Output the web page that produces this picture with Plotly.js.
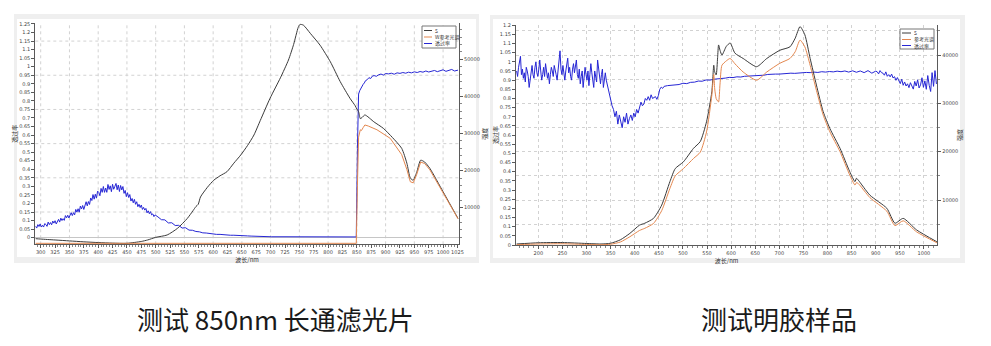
<!DOCTYPE html>
<html>
<head>
<meta charset="utf-8">
<script src="https://cdn.plot.ly/plotly-3.0.1.min.js"></script>
<style>
  html, body { margin: 0; padding: 0; background: #ffffff; }
  #chart { width: 991px; height: 346px; }
</style>
</head>
<body>
<div id="chart"></div>
<script>
// ---------- 850 nm long-pass filter measurement ----------
// lamp / reference spectrum (counts, right axis)
const filterLampWl = [291, 300, 325, 350, 375, 400, 425, 450, 475, 486,
  500, 520, 538, 555, 565, 570, 574, 578, 590, 601,
  612, 624, 636, 648, 660, 671, 682, 699, 717, 731,
  740, 748, 751, 757, 769, 786, 804, 821, 838, 847,
  850, 853, 856, 859, 864, 880, 896, 912, 928, 937,
  943, 948, 954, 961, 968, 977, 1000, 1013, 1026];
const filterLampCounts = [1650, 1550, 1300, 1050, 800, 600, 450, 400, 900, 1300,
  2000, 2650, 4450, 7100, 9200, 10300, 10900, 12900, 15500, 17400,
  18600, 19700, 22000, 24200, 26800, 29600, 33500, 39500, 45000, 49800,
  54000, 58600, 59400, 59200, 57000, 53800, 49300, 44000, 39500, 37500,
  36600, 35900, 34000, 34300, 35000, 33100, 31400, 28900, 26000, 22000,
  18000, 17400, 19500, 22800, 22300, 20600, 14300, 10700, 7100];

// spectrum through the filter (counts, right axis)
const filterSampleWl = [291, 400, 500, 600, 700, 800, 849, 851, 853, 856,
  858, 861, 864, 870, 885, 908, 928, 937, 943, 948,
  954, 961, 968, 977, 1000, 1013, 1026];
const filterSampleCounts = [400, 380, 420, 400, 380, 400, 400, 16000, 29000, 31000,
  30800, 31600, 32300, 32000, 31000, 28700, 24300, 20300, 17000, 16700,
  18900, 22300, 21900, 20200, 14100, 10500, 7000];

// transmittance (left axis)
const filterTransWl = [
  291, 293, 295, 297, 299, 301, 303, 305, 307, 309,
  311, 313, 315, 317, 319, 321, 323, 325, 327, 329,
  331, 333, 335, 337, 339, 341, 343, 345, 347, 349,
  351, 353, 355, 357, 359, 361, 363, 365, 367, 369,
  371, 373, 375, 377, 379, 381, 383, 385, 387, 389,
  391, 393, 395, 397, 399, 401, 403, 405, 407, 409,
  411, 413, 415, 417, 419, 421, 423, 425, 427, 429,
  431, 433, 435, 437, 439, 441, 443, 445, 447, 449,
  451, 453, 455, 457, 459, 461, 463, 465, 467, 469,
  471, 473, 475, 477, 479, 481, 483, 485, 487, 489,
  491, 493, 495, 497, 499,
  504, 510, 516, 522, 528, 534, 540, 546, 552, 558,
  564, 570, 576, 582, 588, 594, 600, 606, 612, 618,
  624, 630, 636, 642, 648, 654, 660, 666, 672, 678,
  684, 690, 696, 702,
  725, 750, 775, 800, 825, 849,
  851, 853, 855, 857, 859, 861, 863, 865,
  868, 871, 874, 877, 880, 884, 888, 892, 896, 900,
  905, 910, 915, 920, 925, 930, 935, 940, 945, 950,
  955, 960, 965, 970, 975, 980, 985, 990, 995, 1000,
  1005, 1010, 1015, 1020, 1026];
const filterTrans = [
  0.067, 0.056, 0.076, 0.065, 0.080, 0.062, 0.072, 0.062, 0.082, 0.077,
  0.066, 0.091, 0.076, 0.088, 0.075, 0.097, 0.085, 0.099, 0.080, 0.098,
  0.107, 0.091, 0.114, 0.100, 0.111, 0.101, 0.129, 0.116, 0.131, 0.115,
  0.136, 0.146, 0.129, 0.146, 0.133, 0.165, 0.149, 0.169, 0.149, 0.185,
  0.168, 0.188, 0.165, 0.194, 0.210, 0.186, 0.211, 0.194, 0.232, 0.217,
  0.252, 0.225, 0.254, 0.231, 0.272, 0.265, 0.245, 0.288, 0.265, 0.299,
  0.265, 0.290, 0.265, 0.311, 0.282, 0.303, 0.269, 0.312, 0.283, 0.300,
  0.317, 0.280, 0.308, 0.270, 0.305, 0.279, 0.299, 0.259, 0.276, 0.240,
  0.263, 0.235, 0.252, 0.214, 0.229, 0.204, 0.224, 0.195, 0.210, 0.181,
  0.195, 0.176, 0.191, 0.165, 0.177, 0.161, 0.171, 0.145, 0.157, 0.140,
  0.152, 0.133, 0.139, 0.123, 0.133,
  0.121, 0.105, 0.104, 0.086, 0.087, 0.071, 0.072, 0.056, 0.058, 0.044,
  0.043, 0.036, 0.034, 0.028, 0.027, 0.023, 0.023, 0.019, 0.019, 0.016,
  0.016, 0.014, 0.014, 0.012, 0.012, 0.010, 0.010, 0.009, 0.008, 0.008,
  0.007, 0.006, 0.006, 0.005,
  0.005, 0.004, 0.005, 0.004, 0.004, 0.004,
  0.52, 0.84, 0.86, 0.875, 0.882, 0.897, 0.905, 0.918,
  0.924, 0.936, 0.931, 0.945, 0.948, 0.944, 0.953, 0.957, 0.951, 0.960,
  0.958, 0.962, 0.956, 0.964, 0.961, 0.966, 0.962, 0.968, 0.964, 0.970,
  0.966, 0.972, 0.968, 0.975, 0.969, 0.974, 0.978, 0.971, 0.977, 0.982,
  0.973, 0.979, 0.984, 0.975, 0.980];

// ---------- gelatin sample measurement ----------
const gelWl = [155, 200, 250, 300, 330, 350, 370, 390, 410, 421,
  439, 456, 473, 484, 501, 522, 536, 549, 560, 564,
  566, 569, 572, 574, 577, 581, 590, 598, 608, 625,
  653, 674, 701, 722, 733, 743, 753, 764, 777, 791,
  805, 826, 846, 857, 860, 864, 888, 923, 940, 957,
  985, 1027];
const gelLampCounts = [900, 1150, 1200, 1000, 900, 1050, 1750, 3100, 4800, 5200,
  6200, 8950, 13800, 16500, 17900, 20700, 22100, 26200, 32400, 37900,
  36500, 35900, 39500, 42100, 41000, 40000, 41800, 42500, 40400, 39300,
  37600, 39300, 41000, 41700, 43500, 45900, 44200, 39300, 33800, 28300,
  24800, 20700, 15900, 13800, 14500, 14100, 11000, 8300, 5200, 6200,
  3800, 1350];
const gelSampleCounts = [750, 900, 950, 800, 750, 850, 1300, 2400, 3700, 4150,
  5150, 7800, 12400, 15000, 16500, 18600, 19900, 24100, 31700, 36000,
  33000, 31000, 30500, 30300, 34000, 37900, 38800, 39300, 38200, 36500,
  34800, 36500, 38300, 39300, 40700, 43100, 41700, 37900, 32700, 27600,
  24100, 20000, 15200, 13100, 13600, 13400, 10500, 7700, 4700, 5700,
  3400, 1150];

const gelTransWl = [
  155, 157, 159, 161, 163, 165, 167, 169, 171, 173,
  175, 177, 179, 181, 183, 185, 187, 189, 191, 193,
  195, 197, 199, 201, 203, 205, 207, 209, 211, 213,
  215, 217, 219, 221, 223, 225, 227, 229, 231, 233,
  235, 237, 239, 241, 243, 245, 247, 249, 251, 253,
  255, 257, 259, 261, 263, 265, 267, 269, 271, 273,
  275, 277, 279, 281, 283, 285, 287, 289, 291, 293,
  295, 297, 299, 301, 303, 305, 307, 309, 311, 313,
  315, 317, 319, 321, 323, 325, 327, 329, 331, 333,
  335, 337, 339,
  341, 344, 347, 350, 353, 356, 359, 362, 365, 368,
  371, 374, 377, 380, 383, 386, 389, 392, 395, 398,
  401, 404, 407, 410, 413, 416, 419, 422, 425, 428,
  431, 434, 437, 440, 443, 446, 449, 452, 455, 458,
  461,
  468, 476, 484, 492, 500, 508, 516, 524, 532, 540,
  548, 556, 564, 572, 580, 588, 596, 604, 612, 620,
  628, 636, 644, 652, 660, 668, 676, 684, 692, 700,
  708, 716, 724, 732, 740, 748, 756, 764, 772, 780,
  788, 796, 804, 812, 820, 828, 836, 844, 852, 860,
  868, 876, 884, 892, 900,
  903, 906, 909, 912, 915, 918, 921, 924, 927, 930,
  933, 936, 939, 942, 945, 948, 951, 954, 957, 960,
  963, 966, 969, 972, 975, 978, 981, 984, 987, 990,
  993, 996, 999, 1002, 1005, 1008, 1011, 1014, 1017, 1020,
  1023, 1026];
const gelTrans = [
  0.95, 0.92, 0.97, 1.00, 1.03, 0.93, 0.96, 0.91, 0.94, 0.89,
  0.97, 0.95, 0.92, 0.86, 0.90, 0.94, 0.98, 0.93, 0.91, 0.97,
  1.00, 0.94, 0.92, 0.96, 1.01, 0.95, 0.90, 0.93, 0.97, 0.92,
  0.99, 0.95, 0.91, 0.94, 0.88, 0.93, 0.97, 0.95, 0.92, 0.98,
  0.96, 0.93, 0.90, 0.95, 1.00, 1.06, 0.96, 0.93, 0.98, 0.94,
  0.90, 0.95, 0.99, 1.02, 0.94, 0.97, 0.92, 0.90, 0.96, 0.99,
  0.94, 0.97, 1.01, 0.93, 0.91, 0.96, 0.88, 0.92, 0.95, 0.86,
  0.91, 0.97, 0.93, 0.90, 0.95, 0.87, 0.93, 0.99, 0.94, 0.90,
  0.86, 0.95, 0.92, 0.89, 1.01, 0.96, 0.91, 0.88, 0.93, 0.96,
  0.86, 0.90, 0.94,
  0.90, 0.86, 0.83, 0.79, 0.76, 0.74, 0.70, 0.73, 0.66, 0.71,
  0.68, 0.64, 0.70, 0.67, 0.72, 0.66, 0.69, 0.71, 0.68, 0.72,
  0.70, 0.74, 0.72, 0.75, 0.78, 0.76, 0.77, 0.80, 0.79, 0.81,
  0.79, 0.82, 0.80, 0.805, 0.81, 0.795, 0.815, 0.85, 0.862, 0.855,
  0.866,
  0.870, 0.872, 0.877, 0.876, 0.883, 0.881, 0.888, 0.889, 0.895, 0.894,
  0.901, 0.900, 0.905, 0.906, 0.910, 0.911, 0.915, 0.914, 0.918, 0.917,
  0.921, 0.922, 0.925, 0.924, 0.928, 0.927, 0.931, 0.930, 0.933, 0.933,
  0.936, 0.935, 0.938, 0.937, 0.940, 0.939, 0.942, 0.941, 0.944, 0.942,
  0.946, 0.944, 0.947, 0.945, 0.949, 0.946, 0.950, 0.944, 0.951, 0.943,
  0.950, 0.941, 0.952, 0.938, 0.949,
  0.946, 0.934, 0.952, 0.941, 0.938, 0.927, 0.945, 0.921, 0.930, 0.918,
  0.933, 0.912, 0.919, 0.899, 0.914, 0.893, 0.881, 0.905, 0.872, 0.890,
  0.868, 0.880, 0.859, 0.886, 0.872, 0.851, 0.893, 0.868, 0.902, 0.857,
  0.874, 0.913, 0.861, 0.896, 0.850, 0.925, 0.872, 0.838, 0.941, 0.866,
  0.952, 0.879];

// legend entries, axis titles and captions
const filterLegend = ['S', 'W参考光谱', '透过率'];
const gelLegend = ['S', '参考光谱', '透过率'];
const wlTitle = '波长/nm';
const transTitle = '透过率';
const countTitle = '强度';
const captions = ['测试 850nm 长通滤光片', '测试明胶样品'];

// ---------- page geometry helpers (pixels -> paper fractions) ----------
const W = 991, H = 346;
const px = v => v / W;
const py = v => 1 - v / H;

const CJK = 'Noto Sans CJK SC, sans-serif';
const tickFont = {family: 'DejaVu Sans, sans-serif', size: 5, color: '#444'};
const titleFont = {family: CJK, size: 6, color: '#333'};
const AXIS = '#5a5a5a';
const GRID = '#d2d2d2';
const DASH = '3px,3px';
const C_LAMP = '#3a3a3a', C_SAMPLE = '#e3874f', C_TRANS = '#2626d4';

function axis(extra) {
  return Object.assign({
    showline: true, linecolor: AXIS, linewidth: 1,
    ticks: 'outside', ticklen: 3, tickcolor: AXIS, tickwidth: 1,
    tickfont: tickFont, tickangle: 0, showgrid: false, zeroline: false,
    exponentformat: 'none', automargin: false, fixedrange: true
  }, extra);
}

function line(x, y, xa, ya, color, name, smooth) {
  return {type: 'scatter', mode: 'lines', x: x, y: y, xaxis: xa, yaxis: ya,
          name: name, showlegend: false, hoverinfo: 'skip',
          line: smooth ? {color: color, width: 1, shape: 'spline', smoothing: 0.6}
                       : {color: color, width: 1}};
}

const traces = [
  line(filterTransWl, filterTrans, 'x', 'y', C_TRANS, filterLegend[2]),
  line(filterLampWl, filterLampCounts, 'x', 'y2', C_LAMP, filterLegend[0], true),
  line(filterSampleWl, filterSampleCounts, 'x', 'y2', C_SAMPLE, filterLegend[1]),
  line(gelTransWl, gelTrans, 'x2', 'y3', C_TRANS, gelLegend[2]),
  line(gelWl, gelLampCounts, 'x2', 'y4', C_LAMP, gelLegend[0], true),
  line(gelWl, gelSampleCounts, 'x2', 'y4', C_SAMPLE, gelLegend[1], true)
];

// ---------- panel frames, grid and legend boxes ----------
const shapes = [];
function rect(x0, y0, x1, y1, fill, lineColor, layer) {
  shapes.push({type: 'rect', xref: 'paper', yref: 'paper',
    x0: px(x0), x1: px(x1), y0: py(y1), y1: py(y0),
    fillcolor: fill, line: {color: lineColor || 'rgba(0,0,0,0)', width: lineColor ? 1 : 0},
    layer: layer || 'below'});
}
rect(14, 14, 479, 263, '#efefef');
rect(17, 19, 476, 257, '#ffffff');
rect(490, 15, 965, 263, '#efefef');
rect(493, 19, 960, 258, '#ffffff');

// dashed grid of the filter panel
for (let wl = 300; wl <= 1000; wl += 50) {
  shapes.push({type: 'line', xref: 'x', yref: 'y domain', x0: wl, x1: wl, y0: 0, y1: 1,
    line: {color: GRID, width: 1, dash: DASH}, layer: 'below'});
}
for (let t = 0.15; t < 1.25; t += 0.2) {
  shapes.push({type: 'line', xref: 'x domain', yref: 'y', x0: 0, x1: 1, y0: t, y1: t,
    line: {color: GRID, width: 1, dash: DASH}, layer: 'below'});
}

const annotations = [];
function legendBox(box, rows, lineX, textX, names) {
  rect(box[0], box[1], box[2], box[3], '#ffffff', '#777777', 'above');
  const colors = [C_LAMP, C_SAMPLE, C_TRANS];
  names.forEach((n, i) => {
    shapes.push({type: 'line', xref: 'paper', yref: 'paper',
      x0: px(lineX[0]), x1: px(lineX[1]), y0: py(rows[i]), y1: py(rows[i]),
      line: {color: colors[i], width: 1}, layer: 'above'});
    annotations.push({xref: 'paper', yref: 'paper', x: px(textX), y: py(rows[i]),
      xanchor: 'left', yanchor: 'middle', showarrow: false, text: n,
      font: {family: CJK, size: 5, color: '#333'}, borderpad: 0});
  });
}
legendBox([422, 26, 456, 48], [30.5, 37, 43.5], [424, 432], 433.5, filterLegend);
legendBox([900, 29, 934, 49], [33, 39.5, 45.5], [902, 911], 912.5, gelLegend);

annotations.push({xref: 'paper', yref: 'paper', x: px(275), y: py(318),
  xanchor: 'center', yanchor: 'middle', showarrow: false, text: captions[0],
  font: {family: CJK, size: 26, color: '#1a1a1a'}});
annotations.push({xref: 'paper', yref: 'paper', x: px(779), y: py(318),
  xanchor: 'center', yanchor: 'middle', showarrow: false, text: captions[1],
  font: {family: CJK, size: 26, color: '#1a1a1a'}});

const layout = {
  width: W, height: H,
  margin: {l: 0, r: 0, t: 0, b: 0, pad: 0},
  paper_bgcolor: '#ffffff',
  plot_bgcolor: 'rgba(0,0,0,0)',
  showlegend: false,
  font: {family: CJK},

  // filter panel
  xaxis: axis({domain: [px(35.3), px(459)], anchor: 'y', range: [290.6, 1027.7],
    tick0: 300, dtick: 25, tickformat: 'd',
    minor: {ticks: 'outside', ticklen: 2, dtick: 5, tickcolor: '#888'},
    title: {text: wlTitle, font: titleFont, standoff: 2}}),
  yaxis: axis({domain: [py(244.3), py(23.3)], anchor: 'x', side: 'left',
    range: [-0.039, 1.254], tick0: 0, dtick: 0.05,
    zeroline: true, zerolinecolor: '#c6c6c6', zerolinewidth: 1,
    title: {text: transTitle, font: titleFont, standoff: 0}}),
  yaxis2: axis({overlaying: 'y', anchor: 'x', side: 'right',
    range: [135, 59700], tick0: 0, dtick: 10000, tickformat: 'd',
    minor: {ticks: 'outside', ticklen: 2, dtick: 2000, tickcolor: '#888'},
    title: {text: countTitle, font: titleFont, standoff: 0}}),

  // gelatin panel
  xaxis2: axis({domain: [px(516), px(937.3)], anchor: 'y3', range: [153.7, 1027.8],
    tick0: 0, dtick: 50, tickformat: 'd',
    showgrid: true, gridcolor: GRID, griddash: DASH, gridwidth: 1,
    minor: {ticks: 'outside', ticklen: 2, dtick: 10, tickcolor: '#888'},
    title: {text: wlTitle, font: titleFont, standoff: 2}}),
  yaxis3: axis({domain: [py(245), py(25)], anchor: 'x2', side: 'left',
    range: [0, 1.201], tick0: 0, dtick: 0.05,
    title: {text: transTitle, font: titleFont, standoff: 0}}),
  yaxis4: axis({overlaying: 'y3', anchor: 'x2', side: 'right',
    range: [690, 46230], tick0: 0, dtick: 10000, tickformat: 'd',
    showgrid: true, gridcolor: GRID, griddash: DASH, gridwidth: 1,
    minor: {ticks: 'outside', ticklen: 2, dtick: 5000, tickcolor: '#888',
            showgrid: true, gridcolor: GRID, griddash: DASH, gridwidth: 1},
    title: {text: countTitle, font: titleFont, standoff: 0}}),

  shapes: shapes,
  annotations: annotations
};

Plotly.newPlot('chart', traces, layout, {staticPlot: true, displayModeBar: false, responsive: false});
</script>
</body>
</html>
